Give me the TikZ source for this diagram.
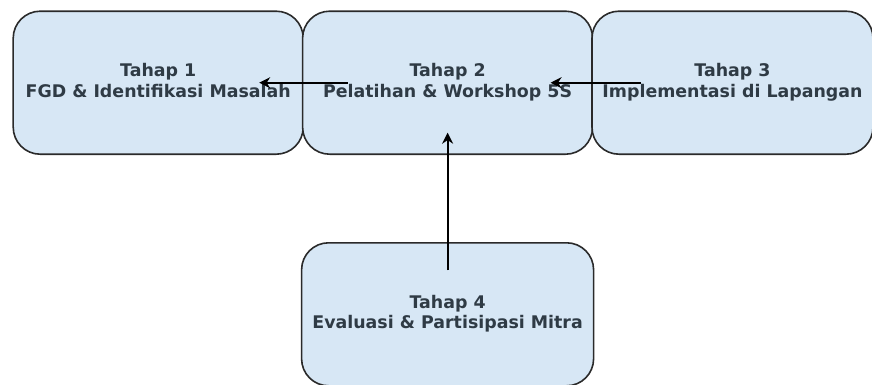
\documentclass[tikz,border=0pt]{standalone}
\usepackage{fontspec}
\setmainfont{DejaVu Sans}
\usepackage{xcolor}
\usepackage{tikz}
\usetikzlibrary{arrows.meta}
\usetikzlibrary{calc, matrix, positioning}
\definecolor{stagefill}{HTML}{D7E7F5}
\definecolor{stagetext}{HTML}{2F3B45}
\definecolor{stageline}{HTML}{2A2A2A}
\newcommand{\andsign}{\symbol{38}}
\newcommand{\stagelabel}[2]{\begin{tabular}{@{}c@{}}#1\\#2\end{tabular}}
\tikzstyle{stage}=[rectangle, rounded corners=13.5pt, draw=stageline, fill=stagefill, line width=0.8pt, minimum width=145pt, minimum height=71.5pt, text=stagetext, inner sep=0pt, outer sep=0pt]

\begin{document}
\begin{tikzpicture}

\tikzset{>={Stealth[length=5.5pt, width=5.5pt]}}
\tikzset{every node/.style={font=\bfseries\fontsize{8.7pt}{10.3pt}\selectfont}}

% page frame
\useasboundingbox (0,0) rectangle (436pt,-192.5pt);

% Stages
\matrix (m0) [
    ampersand replacement=\&,
    matrix of nodes,
    column sep=-1.6pt,
    row sep=43.5pt,
    inner sep=0pt,
    anchor=north west,
] at (6pt,-5pt)
{
    |[stage]| \stagelabel{Tahap 1}{FGD \andsign{} Identifikasi Masalah} \&
    |[stage]| \stagelabel{Tahap 2}{Pelatihan \andsign{} Workshop 5S} \&
    |[stage, minimum width=140.5pt]| \stagelabel{Tahap 3}{Implementasi di Lapangan} \\
    \&
    |[stage, minimum width=146pt]| \stagelabel{Tahap 4}{Evaluasi \andsign{} Partisipasi Mitra} \&
    \\
};

% Arrows between stages
\draw[->, line width=1pt] ([xshift=-50pt]m0-1-2.center) -- ([xshift=50.5pt]m0-1-1.center); % 2 -> 1
\draw[->, line width=1pt] ([xshift=-46pt]m0-1-3.center) -- ([xshift=51.5pt]m0-1-2.center); % 3 -> 2
\draw[->, line width=1pt] ([yshift=22pt]m0-2-2.center) -- ([yshift=-25pt]m0-1-2.center); % 4 -> 2

\end{tikzpicture}
\end{document}
